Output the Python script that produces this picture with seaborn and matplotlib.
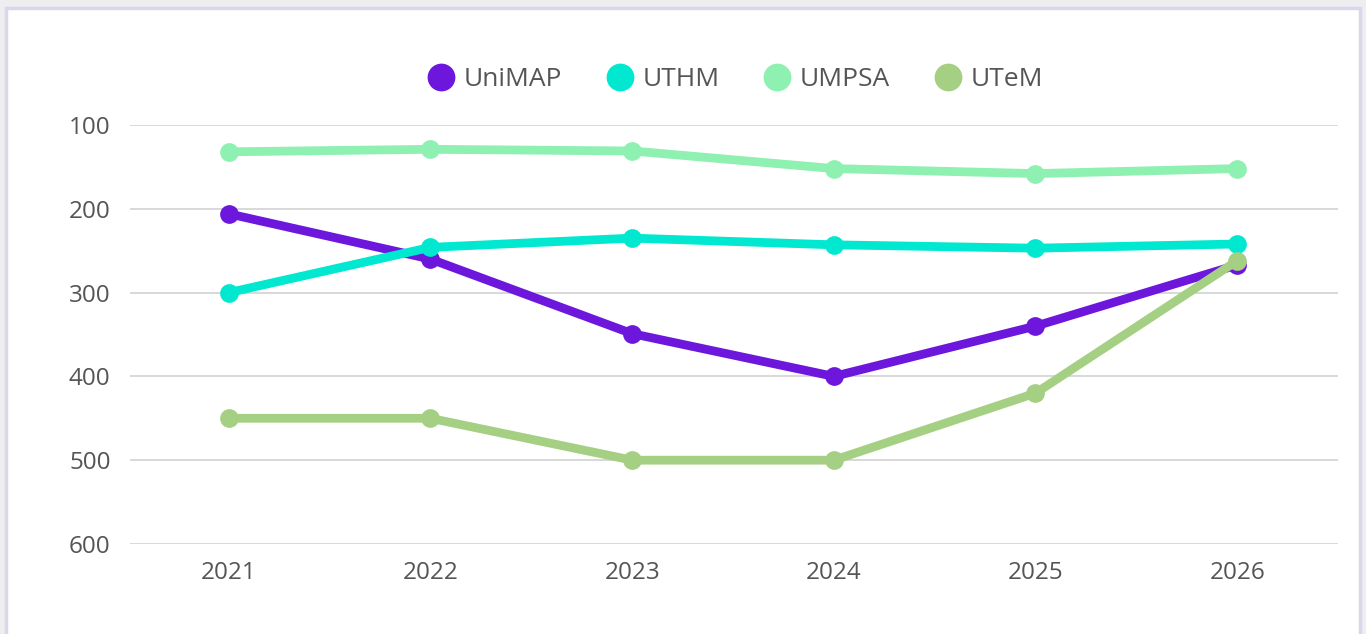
import pandas as pd
import numpy as np
import matplotlib
matplotlib.use("Agg")
import matplotlib.pyplot as plt
import matplotlib.patches as mpatches
import seaborn as sns

# --- datos (ranking, eje invertido) ---
years = [2021, 2022, 2023, 2024, 2025, 2026]
unimap = [206, 260, 349, 400, 340, 267]
uthm = [300, 246, 235, 243, 247, 242]
umpsa = [132, 129, 131, 152, 158, 152]
utem = [450, 450, 500, 500, 420, 262]

series = ["UniMAP", "UTHM", "UMPSA", "UTeM"]
colors = ["#6d17dc", "#00e8cf", "#8ef0b1", "#a5d083"]
yticks = [100, 200, 300, 400, 500, 600]

df = pd.DataFrame({
    "year": years * 4,
    "rank": unimap + uthm + umpsa + utem,
    "uni": np.repeat(series, len(years)),
})

sns.set_theme(style="white")
plt.rcParams["font.family"] = ["Open Sans", "DejaVu Sans"]

fig = plt.figure(figsize=(13.66, 6.34), dpi=100)
fig.patch.set_facecolor("#eeedf0")
# tarjeta blanca con borde lila (detras de los ejes)
card = mpatches.Rectangle((6 / 1366, -0.05), (1360 - 6) / 1366, 1.05 - 8 / 634,
                          transform=fig.transFigure, facecolor="white",
                          edgecolor="#dcd6ea", lw=2.5, zorder=-10)
fig.patches.append(card)

ax = fig.add_axes([130 / 1366, 1 - 544 / 634, (1338 - 130) / 1366, (544 - 125) / 634])
ax.set_facecolor("none")
ax.set_zorder(5)

sns.lineplot(data=df, x="year", y="rank", hue="uni", hue_order=series,
             palette=colors, marker="o", markersize=13.5, markeredgewidth=0,
             linewidth=6.3, ax=ax)

ax.set_ylim(600, 100)
ax.set_xlim(2020.51, 2026.5)
ax.set_yticks(yticks)
ax.set_xticks(years)
ax.yaxis.grid(True, color="#d6d6d6", lw=1.3)
ax.set_axisbelow(True)
for s in ax.spines.values():
    s.set_visible(False)
ax.tick_params(axis="both", length=0, labelsize=17.5, labelcolor="#555555")
ax.tick_params(axis="y", pad=14)
ax.tick_params(axis="x", pad=12)
ax.set_xlabel("")
ax.set_ylabel("")

handles, labels = ax.get_legend_handles_labels()
for h in handles:
    h.set_linestyle("")
    h.set_markersize(20)
ax.legend(handles, labels, ncol=4, loc="center", bbox_to_anchor=(0.5, 1.108),
          frameon=False, fontsize=19, labelcolor="#555555", handletextpad=0.25,
          columnspacing=1.6, handlelength=1.2)

fig.savefig("out.png", dpi=100, facecolor=fig.get_facecolor())
